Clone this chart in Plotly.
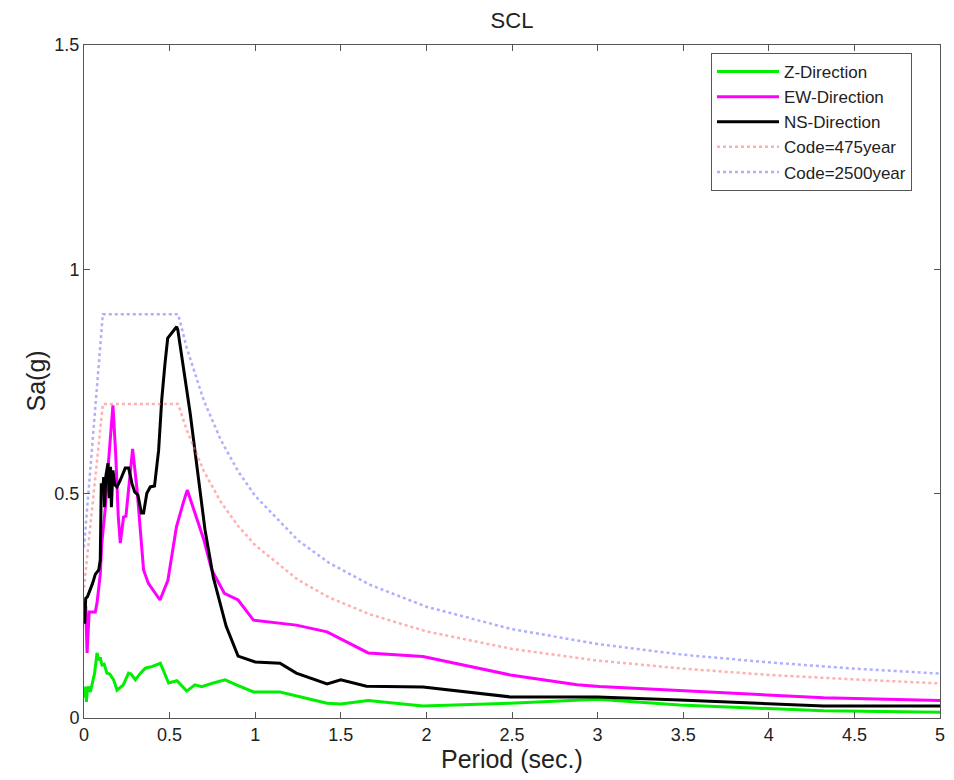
import plotly.graph_objects as go

# ---- data ----
z_T = [0.0, 0.004, 0.010, 0.014, 0.020, 0.027, 0.037, 0.048, 0.062, 0.076, 0.086, 0.095, 0.105, 0.118,
       0.134, 0.150, 0.173, 0.193, 0.205, 0.230, 0.260, 0.275, 0.300, 0.330, 0.358, 0.400, 0.446,
       0.494, 0.543, 0.572, 0.600, 0.648, 0.687, 0.755, 0.824, 0.890, 0.990, 1.145, 1.420, 1.500,
       1.660, 1.980, 2.490, 3.000, 3.480, 4.320, 5.000]
z_Sa = [0.050, 0.047, 0.070, 0.036, 0.065, 0.070, 0.058, 0.075, 0.100, 0.145, 0.129, 0.135, 0.118, 0.120,
        0.100, 0.098, 0.085, 0.062, 0.066, 0.074, 0.100, 0.098, 0.085, 0.100, 0.111, 0.115, 0.122,
        0.078, 0.083, 0.070, 0.060, 0.074, 0.070, 0.078, 0.085, 0.074, 0.058, 0.058, 0.033, 0.031,
        0.039, 0.027, 0.033, 0.042, 0.029, 0.016, 0.013]

ew_T = [0.010, 0.018, 0.030, 0.047, 0.066, 0.076, 0.095, 0.104, 0.125, 0.144, 0.169, 0.185, 0.200,
        0.212, 0.231, 0.245, 0.265, 0.284, 0.310, 0.348, 0.376, 0.410, 0.444, 0.490, 0.540, 0.580,
        0.603, 0.648, 0.700, 0.746, 0.790, 0.820, 0.900, 0.990, 1.240, 1.420, 1.660, 1.980, 2.490,
        2.880, 3.010, 4.320, 5.000]
ew_Sa = [0.250, 0.145, 0.236, 0.236, 0.236, 0.256, 0.320, 0.390, 0.470, 0.575, 0.697, 0.590, 0.450,
         0.390, 0.448, 0.450, 0.520, 0.600, 0.508, 0.330, 0.300, 0.280, 0.263, 0.307, 0.426, 0.480,
         0.508, 0.457, 0.397, 0.330, 0.300, 0.278, 0.263, 0.218, 0.207, 0.192, 0.145, 0.137, 0.096,
         0.074, 0.070, 0.045, 0.039]

ns_T = [0.004, 0.010, 0.020, 0.037, 0.050, 0.066, 0.086, 0.095, 0.101, 0.108, 0.115, 0.120, 0.128,
        0.140, 0.148, 0.155, 0.160, 0.169, 0.180, 0.193, 0.212, 0.241, 0.261, 0.280, 0.296, 0.315,
        0.335, 0.348, 0.367, 0.387, 0.412, 0.436, 0.454, 0.473, 0.489, 0.541, 0.548, 0.620, 0.707,
        0.755, 0.830, 0.900, 1.000, 1.145, 1.240, 1.420, 1.500, 1.650, 1.980, 2.490, 3.000, 3.480,
        4.320, 5.000]
ns_Sa = [0.210, 0.267, 0.270, 0.285, 0.300, 0.320, 0.330, 0.352, 0.523, 0.500, 0.537, 0.470, 0.540,
         0.568, 0.490, 0.560, 0.470, 0.552, 0.520, 0.515, 0.530, 0.557, 0.557, 0.523, 0.504, 0.497,
         0.457, 0.457, 0.501, 0.515, 0.517, 0.597, 0.709, 0.790, 0.847, 0.872, 0.865, 0.680, 0.419,
         0.314, 0.205, 0.138, 0.125, 0.122, 0.100, 0.076, 0.085, 0.071, 0.069, 0.047, 0.047, 0.040,
         0.027, 0.027]

code_T = [0.0, 0.11, 0.55, 0.60, 0.70, 0.80, 0.90, 1.00, 1.25, 1.43, 1.67, 2.00, 2.50, 3.00, 3.50,
          4.00, 4.50, 5.00]
c475_Sa = [0.29, 0.70, 0.70, 0.642, 0.550, 0.481, 0.428, 0.385, 0.308, 0.269, 0.231, 0.193, 0.154,
           0.128, 0.110, 0.096, 0.086, 0.077]
c2500_Sa = [0.38, 0.90, 0.90, 0.825, 0.707, 0.619, 0.550, 0.495, 0.396, 0.346, 0.297, 0.248, 0.198,
            0.165, 0.141, 0.124, 0.110, 0.099]

x_ticks = [0, 0.5, 1, 1.5, 2, 2.5, 3, 3.5, 4, 4.5, 5]
x_labels = ["0", "0.5", "1", "1.5", "2", "2.5", "3", "3.5", "4", "4.5", "5"]
y_ticks = [0, 0.5, 1, 1.5]
y_labels = ["0", "0.5", "1", "1.5"]

FONT = "Liberation Sans, Arial, sans-serif"
OFF = 8                      # the page body margin that shifts the figure
W, H = 954 - OFF, 780 - OFF
L, R, T, B = 84 - OFF, 14, 45 - OFF, 62
PW, PH = W - L - R, H - T - B


def px_x(wx):  # window x pixel -> paper x
    return (wx - OFF - L) / PW


def px_y(wy):  # window y pixel -> paper y
    return (H - B - (wy - OFF)) / PH


fig = go.Figure()
fig.add_trace(go.Scatter(x=z_T, y=z_Sa, mode="lines", name="Z-Direction",
                         line=dict(color="#00ee00", width=3)))
fig.add_trace(go.Scatter(x=ew_T, y=ew_Sa, mode="lines", name="EW-Direction",
                         line=dict(color="#ff00ff", width=3)))
fig.add_trace(go.Scatter(x=ns_T, y=ns_Sa, mode="lines", name="NS-Direction",
                         line=dict(color="#000000", width=3)))
fig.add_trace(go.Scatter(x=code_T, y=c475_Sa, mode="lines", name="Code=475year",
                         line=dict(color="rgba(255,110,110,0.55)", width=2.5, dash="dot")))
fig.add_trace(go.Scatter(x=code_T, y=c2500_Sa, mode="lines", name="Code=2500year",
                         line=dict(color="rgba(110,110,255,0.55)", width=2.5, dash="dot")))

axis_common = dict(showgrid=False, zeroline=False, showline=True, linecolor="#555555",
                   linewidth=1, mirror="ticks", ticks="inside", ticklen=6, automargin=False,
                   tickcolor="#555555", tickfont=dict(family=FONT, size=18, color="#222222"))

fig.update_layout(
    width=W, height=H,
    margin=dict(l=L, r=R, t=T, b=B, autoexpand=False),
    paper_bgcolor="white", plot_bgcolor="white",
    title=dict(text="SCL", x=0.5, xref="paper", y=1 - (20 - OFF) / H, yref="container",
               yanchor="middle", xanchor="center",
               font=dict(family=FONT, size=22, color="#222222")),
    xaxis=dict(range=[0, 5], tickvals=x_ticks, ticktext=x_labels, **axis_common),
    yaxis=dict(range=[0, 1.5], tickvals=y_ticks, ticktext=y_labels, **axis_common),
    legend=dict(x=px_x(711), y=px_y(53), xanchor="left", yanchor="top",
                bgcolor="white", bordercolor="#555555", borderwidth=1,
                font=dict(family=FONT, size=17, color="#222222"),
                itemwidth=62, tracegroupgap=0),
    showlegend=True,
    annotations=[
        dict(text="Period (sec.)", xref="paper", yref="paper", x=0.5, y=px_y(759),
             xanchor="center", yanchor="middle", showarrow=False,
             font=dict(family=FONT, size=25, color="#222222")),
        dict(text="Sa(g)", xref="paper", yref="paper", x=px_x(35), y=0.5,
             xanchor="center", yanchor="middle", showarrow=False, textangle=-90,
             font=dict(family=FONT, size=25, color="#222222")),
    ],
)

fig.write_html("out.html")
